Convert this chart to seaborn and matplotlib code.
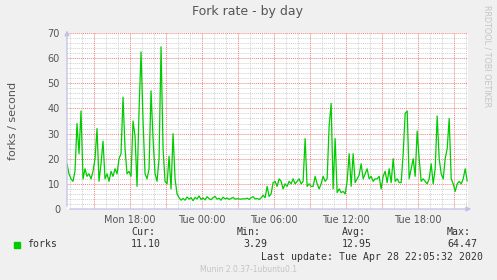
import numpy as np
import pandas as pd
import matplotlib
matplotlib.use("Agg")
import matplotlib.pyplot as plt
import seaborn as sns

# ---- data (fork rate, 10-minute steps starting Mon 12:45) ----
start_hour = 12.75
step_hours = 1.0 / 6.0
forks = [
    18, 14, 12, 11, 15, 34, 22, 39, 12, 16,
    13, 14, 12, 15, 20, 32, 11, 18, 27, 12,
    14, 11, 15, 13, 16, 14, 20, 22, 44.5, 24,
    14, 15, 13, 35, 29, 9, 39, 62.5, 35, 14,
    12, 16, 47, 28, 14, 11, 20, 64.5, 24, 11,
    10, 21, 8, 30, 12, 6, 4.5, 3.5, 4.2, 3.5,
    4.8, 3.9, 4.5, 3.3, 4.6, 4.0, 5.2, 3.8, 4.4, 3.6,
    4.9, 4.1, 3.7, 4.5, 5.0, 3.9, 4.3, 3.5, 4.7, 4.0,
    4.4, 3.8, 4.2, 4.6, 3.9, 4.1, 4.0, 3.9, 4.1, 4.0,
    4.3, 3.8, 4.5, 4.9, 4.0, 4.2, 3.8, 4.4, 5.5, 4.5,
    9, 5, 6, 10.5, 11, 9, 12, 11, 8, 10,
    9, 11, 10, 12, 10, 11, 12, 10, 11, 28,
    9, 10, 9, 9, 13, 10, 8, 10, 13, 11,
    12, 33, 42, 8, 28, 6.5, 8, 6.5, 7, 6,
    11, 22, 9, 22, 10.5, 12, 13.5, 18, 12, 14,
    16, 12, 13, 11, 12, 12, 13, 8, 13, 15,
    10.5, 16, 10.5, 20, 11, 12, 10.5, 10.5, 22, 38,
    39, 12, 16, 20, 13, 31, 20, 11, 12, 11,
    10, 12, 18, 10, 16, 37, 20, 14, 12, 20,
    24, 36, 12, 10, 7, 10, 11, 10, 12, 16,
    11.1,
]
tick_hours = [18, 24, 30, 36, 42]
tick_labels = ["Mon 18:00", "Tue 00:00", "Tue 06:00", "Tue 12:00", "Tue 18:00"]
legend_name = "forks"
stats_labels = ["Cur:", "Min:", "Avg:", "Max:"]
stats_values = ["11.10", "3.29", "12.95", "64.47"]

hours = [start_hour + i * step_hours for i in range(len(forks))]
df = pd.DataFrame({"hour": hours, "forks": forks})

sns.set_theme(style="white")
plt.rcParams["font.family"] = ["DejaVu Sans"]

W, H = 497, 280
fig = plt.figure(figsize=(W / 100, H / 100), dpi=100, facecolor="#F0F0F0")
ax = fig.add_axes([67 / W, 1 - 209 / H, (468 - 67) / W, (209 - 33) / H])
ax.set_facecolor("white")

green = "#00CC00"
sns.lineplot(data=df, x="hour", y="forks", ax=ax, color=green, linewidth=0.9)

ax.set_xlim(start_hour, start_hour + 33.4)
ax.set_ylim(0, 70)

# grid
for h in np.arange(13, 47, 1):
    if h % 3 == 0:
        continue
    ax.axvline(h, color="#D0D0D0", lw=0.7, ls=(0, (1, 1)), zorder=0)
for v in np.arange(2, 70, 2):
    if v % 10 == 0:
        continue
    ax.axhline(v, color="#D0D0D0", lw=0.7, ls=(0, (1, 1)), zorder=0)
for h in np.arange(15, 47, 3):
    ax.axvline(h, color="#F08080", lw=0.7, ls=(0, (1, 1)), zorder=0.5)
for v in np.arange(10, 71, 10):
    ax.axhline(v, color="#F08080", lw=0.7, ls=(0, (1, 1)), zorder=0.5)
ax.axvline(ax.get_xlim()[1], color="#D0D0D0", lw=0.7, ls=(0, (1, 1)), zorder=0)

for s in ax.spines.values():
    s.set_visible(False)

axis_col = "#C0C0E8"
ax.annotate("", xy=(0, 1.03), xytext=(0, 0), xycoords="axes fraction",
            arrowprops=dict(arrowstyle="-|>", color=axis_col, lw=0.9,
                            mutation_scale=7), annotation_clip=False)
ax.annotate("", xy=(1.015, 0), xytext=(0, 0), xycoords="axes fraction",
            arrowprops=dict(arrowstyle="-|>", color=axis_col, lw=0.9,
                            mutation_scale=7), annotation_clip=False)

ax.set_xticks(tick_hours)
ax.set_xticklabels(tick_labels)
ax.set_yticks(range(0, 71, 10))
ax.tick_params(axis="both", length=0, labelsize=7, colors="#555555")
ax.tick_params(axis="y", pad=5)
ax.tick_params(axis="x", pad=4)
ax.set_xlabel("")
ax.set_ylabel("forks / second", fontsize=8, color="#555555")
ax.yaxis.set_label_coords((18 - 67) / (468 - 67), 0.5)

# title and side texts
fig.text(248 / W, 1 - 12 / H, "Fork rate - by day", ha="center", va="center",
         fontsize=9, color="#555555")
fig.text(487 / W, 1 - 5 / H, "RRDTOOL / TOBI OETIKER", ha="center", va="top",
         rotation=270, fontsize=5.8, color="#C4C4C4")

# legend
mono = "DejaVu Sans Mono"
fig.patches.append(plt.Rectangle((14 / W, 1 - 248 / H), 6 / W, 6 / H,
                                 transform=fig.transFigure, color=green))
fig.text(27 / W, 1 - 244 / H, legend_name, ha="left", va="center",
         family=mono, fontsize=7.1, color="#333333")
label_x = [131, 237, 342, 447]
value_right = [161, 267, 372, 477]
for lab, val, lx, vr in zip(stats_labels, stats_values, label_x, value_right):
    fig.text(lx / W, 1 - 232 / H, lab, ha="left", va="center",
             family=mono, fontsize=7.1, color="#333333")
    fig.text(vr / W, 1 - 244 / H, val, ha="right", va="center",
             family=mono, fontsize=7.1, color="#333333")
fig.text(483 / W, 1 - 257 / H, "Last update: Tue Apr 28 22:05:32 2020",
         ha="right", va="center", family=mono, fontsize=7.1, color="#333333")
fig.text(248 / W, 1 - 269 / H, "Munin 2.0.37-1ubuntu0.1", ha="center",
         va="center", fontsize=5.5, color="#C4C4C4")

fig.savefig("out.png", dpi=100, facecolor=fig.get_facecolor())
